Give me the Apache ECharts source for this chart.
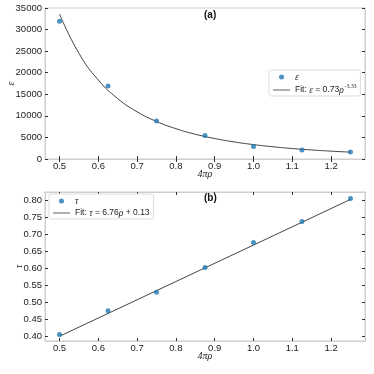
<!DOCTYPE html>
<html><head><meta charset="utf-8">
<script src="https://cdn.jsdelivr.net/npm/echarts@6/dist/echarts.min.js"></script>
<style>html,body{margin:0;padding:0;background:#fff}#c{width:374px;height:374px}</style>
</head><body><div id="c"></div>
<script>
// data
const xVals = [0.5, 0.625, 0.75, 0.875, 1.0, 1.125, 1.25];
const epsVals = [31900, 16900, 8800, 5450, 2900, 2100, 1620];
const tauVals = [0.404, 0.474, 0.529, 0.602, 0.676, 0.738, 0.806];
const fitEpsX = [0.5, 0.55, 0.6, 0.65, 0.7, 0.75, 0.8, 0.85, 0.9, 0.95, 1.0, 1.05, 1.1, 1.15, 1.2, 1.25];
const fitEpsY = [33600, 24500, 18300, 14000, 10950, 8700, 7030, 5740, 4750, 3960, 3340, 2840, 2430, 2100, 1820, 1590];
const fitTauX = [0.5, 1.25];
const fitTauY = [0.399, 0.803];
const xTicks = [0.5, 0.6, 0.7, 0.8, 0.9, 1.0, 1.1, 1.2];
const tauTicks = [0.40, 0.45, 0.50, 0.55, 0.60, 0.65, 0.70, 0.75, 0.80];

const chart = echarts.init(document.getElementById('c'));
const F = 'Liberation Sans';
const FS = 9.5;
const border = '#cfcfcf';
const tickCol = '#333';
const fitCol = '#444';
const pair = (xs, ys) => xs.map((x, i) => [x, ys[i]]);
const lineIcon = 'path://M0,0 H20 V1 H0 Z';

function xAx(gi, pos, labels, name) {
  return {
    type: 'value', gridIndex: gi, position: pos, min: 0.4625, max: 1.2875,
    axisLine: {show: true, lineStyle: {color: border, width: 1}},
    axisTick: {show: true, inside: true, length: 3, customValues: xTicks, lineStyle: {color: tickCol}},
    axisLabel: {show: labels, customValues: xTicks, fontFamily: F, fontSize: FS, color: '#222', margin: 2,
      formatter: v => v.toFixed(1)},
    splitLine: {show: false},
    name: name || '', nameLocation: 'middle', nameGap: 10, nameMoveOverlap: false,
    nameTextStyle: {fontFamily: 'Liberation Serif', fontStyle: 'italic', fontSize: 10, color: '#222'}
  };
}

const option = {
  animation: false,
  backgroundColor: '#fff',
  grid: [
    {left: 45, top: 8, width: 320, height: 151, show: true, borderColor: border, borderWidth: 1,
      containLabel: false, outerBoundsMode: 'none'},
    {left: 45, top: 192, width: 320, height: 149, show: true, borderColor: border, borderWidth: 1,
      containLabel: false, outerBoundsMode: 'none'}
  ],
  xAxis: [
    xAx(0, 'bottom', true, '4πρ'),
    xAx(0, 'top', false),
    xAx(1, 'bottom', true, '4πρ'),
    xAx(1, 'top', false)
  ],
  yAxis: [
    {type: 'value', gridIndex: 0, position: 'left', min: 0, max: 35000, interval: 5000,
      axisLine: {show: true, lineStyle: {color: border}},
      axisTick: {show: true, inside: true, length: 3, lineStyle: {color: tickCol}},
      axisLabel: {fontFamily: F, fontSize: FS, color: '#222', margin: 3, formatter: v => String(v)},
      splitLine: {show: false},
      name: 'ε', nameLocation: 'middle', nameGap: 29, nameRotate: 90, nameMoveOverlap: false,
      nameTextStyle: {fontFamily: 'Liberation Serif', fontStyle: 'italic', fontSize: 10, color: '#222'}},
    {type: 'value', gridIndex: 0, position: 'right', min: 0, max: 35000, interval: 5000,
      axisLine: {show: true, lineStyle: {color: border}},
      axisTick: {show: true, inside: true, length: 3, lineStyle: {color: tickCol}},
      axisLabel: {show: false}, splitLine: {show: false}},
    {type: 'value', gridIndex: 1, position: 'left', min: 0.385, max: 0.825,
      axisLine: {show: true, lineStyle: {color: border}},
      axisTick: {show: true, inside: true, length: 3, customValues: tauTicks, lineStyle: {color: tickCol}},
      axisLabel: {customValues: tauTicks, fontFamily: F, fontSize: FS, color: '#222', margin: 3, formatter: v => v.toFixed(2)},
      splitLine: {show: false},
      name: 'τ', nameLocation: 'middle', nameGap: 21, nameRotate: 90, nameMoveOverlap: false,
      nameTextStyle: {fontFamily: 'Liberation Serif', fontStyle: 'italic', fontSize: 10, color: '#222'}},
    {type: 'value', gridIndex: 1, position: 'right', min: 0.385, max: 0.825,
      axisLine: {show: true, lineStyle: {color: border}},
      axisTick: {show: true, inside: true, length: 3, customValues: tauTicks, lineStyle: {color: tickCol}},
      axisLabel: {show: false}, splitLine: {show: false}}
  ],
  legend: [
    {data: [{name: 'ε', icon: 'circle'}, {name: 'Fit ε', icon: lineIcon}], orient: 'vertical', left: 269, top: 70,
      itemWidth: 17, itemHeight: 5, itemGap: 2, padding: [2, 4, 1, 4],
      backgroundColor: '#fff', borderColor: '#ddd', borderWidth: 1, borderRadius: 2,
      textStyle: {fontFamily: F, fontSize: 8.5, color: '#222',
        rich: {i: {fontFamily: 'Liberation Serif', fontStyle: 'italic', fontSize: 9.5},
               n: {fontFamily: F, fontSize: 8.5},
               s: {fontFamily: 'Liberation Serif', fontSize: 5.5, padding: [0, 0, 6, 0]}}},
      formatter: n => n === 'ε' ? '{i|ε}' : '{n|Fit: }{i|ε}{n| = 0.73}{i|ρ}{s|−3.33}'},
    {data: [{name: 'τ', icon: 'circle'}, {name: 'Fit τ', icon: lineIcon}], orient: 'vertical', left: 49, top: 194,
      itemWidth: 17, itemHeight: 5, itemGap: 2, padding: [2, 4, 1, 4],
      backgroundColor: '#fff', borderColor: '#ddd', borderWidth: 1, borderRadius: 2,
      textStyle: {fontFamily: F, fontSize: 8.5, color: '#222',
        rich: {i: {fontFamily: 'Liberation Serif', fontStyle: 'italic', fontSize: 9.5},
               n: {fontFamily: F, fontSize: 8.5}}},
      formatter: n => n === 'τ' ? '{i|τ}' : '{n|Fit: }{i|τ}{n| = 6.76}{i|ρ}{n| + 0.13}'}
  ],
  graphic: [
    {type: 'text', left: 204, top: 10, style: {text: '(a)', fontFamily: F, fontWeight: 'bold', fontSize: 10, fill: '#111'}},
    {type: 'text', left: 204, top: 193, style: {text: '(b)', fontFamily: F, fontWeight: 'bold', fontSize: 10, fill: '#111'}}
  ],
  series: [
    {name: 'Fit ε', type: 'line', xAxisIndex: 0, yAxisIndex: 0, data: pair(fitEpsX, fitEpsY), smooth: true,
      symbol: 'none', itemStyle: {color: fitCol}, lineStyle: {color: fitCol, width: 1}, z: 2},
    {name: 'ε', type: 'scatter', xAxisIndex: 0, yAxisIndex: 0, data: pair(xVals, epsVals), symbolSize: 5,
      itemStyle: {color: '#1f77b4'}, z: 3},
    {name: 'Fit τ', type: 'line', xAxisIndex: 2, yAxisIndex: 2, data: pair(fitTauX, fitTauY),
      symbol: 'none', itemStyle: {color: fitCol}, lineStyle: {color: fitCol, width: 1}, z: 2},
    {name: 'τ', type: 'scatter', xAxisIndex: 2, yAxisIndex: 2, data: pair(xVals, tauVals), symbolSize: 5,
      itemStyle: {color: '#1f77b4'}, z: 3}
  ]
};
chart.setOption(option);
</script></body></html>
